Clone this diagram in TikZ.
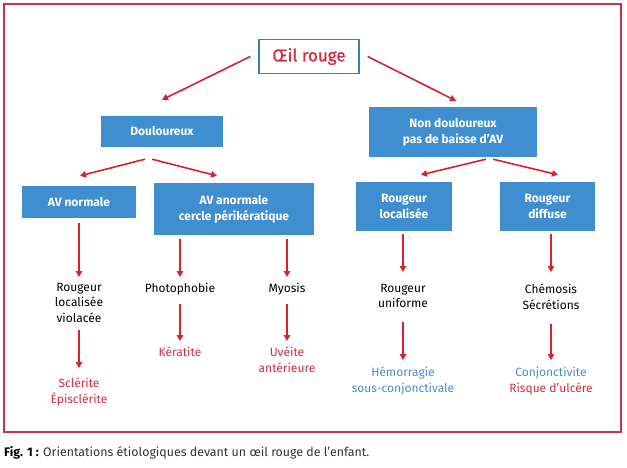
\documentclass[tikz,border=0pt]{standalone}
\usepackage{fontspec}
\setmainfont{Fira Sans}
\newfontfamily\medfont{Fira Sans}[FakeBold=1]
\usetikzlibrary{arrows.meta}
\definecolor{boxblue}{HTML}{3E8ED0}
\definecolor{topblue}{HTML}{3A7FB8}
\definecolor{arrowred}{HTML}{D7222F}
\definecolor{textred}{HTML}{CF2E3E}
\definecolor{textblue}{HTML}{4A8DC4}
\definecolor{framered}{HTML}{C2364A}
\definecolor{captiongray}{HTML}{333333}

\begin{document}
\begin{tikzpicture}[x=1pt, y=1pt,
 box/.style={fill=boxblue, text=white, font=\bfseries\fontsize{12}{16}\selectfont, align=center, inner sep=0},
 txt/.style={font=\fontsize{12}{15.5}\selectfont, align=center, inner sep=0, anchor=north},
 arr/.style={draw=arrowred, line width=1.6pt, -{Triangle[length=6pt,width=6.5pt]}}]
\useasboundingbox (0,0) rectangle (627,-468);
\draw[framered, line width=1.4pt] (4,-4) rectangle (621,-432);
\node[draw=topblue, line width=1.4pt, fill=white, text=textred, font=\medfont\fontsize{17}{20}\selectfont, minimum width=100, minimum height=34, inner sep=0] (oeil) at (309,-56.5) {Œil rouge};
\node[box, minimum width=122, minimum height=31] (doul) at (162,-131.5) {Douloureux};
\node[box, minimum width=168, minimum height=50] (ndoul) at (453,-132) {Non douloureux\\pas de baisse d’AV};
\node[box, minimum width=114, minimum height=32] (avn) at (79,-202) {AV normale};
\node[box, minimum width=160, minimum height=52] (ava) at (234,-209) {AV anormale\\cercle périkératique};
\node[box, minimum width=96, minimum height=49] (rloc) at (404,-206.5) {Rougeur\\localisée};
\node[box, minimum width=95, minimum height=49] (rdif) at (547.5,-206.5) {Rougeur\\diffuse};
\node[txt] (rviol) at (79,-283) {Rougeur\\localisée\\violacée};
\node[txt] (photo) at (180,-283) {Photophobie};
\node[txt] (myo) at (287,-283) {Myosis};
\node[txt] (runi) at (403,-284) {Rougeur\\uniforme};
\node[txt] (chem) at (551,-284) {Chémosis\\Sécrétions};
\node[txt, text=textred] (scl) at (79,-378) {Sclérite\\Épisclérite};
\node[txt, text=textred] (kera) at (180,-347) {Kératite};
\node[txt, text=textred] (uve) at (287,-347) {Uvéite\\antérieure};
\node[txt, text=textblue] (hemo) at (403,-367) {Hémorragie\\sous-conjonctivale};
\node[txt] (conj) at (551,-367) {\textcolor{textblue}{Conjonctivite}\\\textcolor{textred}{Risque d’ulcère}};
\node[anchor=west, inner sep=0, font=\fontsize{12.4}{14}\selectfont, text=captiongray] (cap) at (4,-453) {\textcolor{black}{\textbf{Fig. 1 :}} Orientations étiologiques devant un œil rouge de l’enfant.};
\draw[arr] ([xshift=-8]oeil.west) -- ([yshift=16]doul.north);
\draw[arr] ([xshift=8]oeil.east) -- ([xshift=3,yshift=6]ndoul.north);
\draw[arr] ([xshift=-17,yshift=-12]doul.south) -- ([xshift=1,yshift=10]avn.north);
\draw[arr] ([xshift=-10,yshift=-12]doul.south) -- ([xshift=-17,yshift=7]ava.north);
\draw[arr] ([xshift=33,yshift=-2]ndoul.south) -- ([xshift=17,yshift=7]rloc.north);
\draw[arr] ([xshift=40,yshift=-2]ndoul.south) -- ([xshift=10.5,yshift=7]rdif.north);
\draw[arr] ([yshift=-5]avn.south) -- ([yshift=6]rviol.north);
\draw[arr] ([yshift=-7]rviol.south) -- ([yshift=10]scl.north);
\draw[arr] ([xshift=-54,yshift=-4]ava.south) -- ([yshift=6]photo.north);
\draw[arr] ([xshift=53,yshift=-4]ava.south) -- ([yshift=6]myo.north);
\draw[arr] ([yshift=-8.5]photo.south) -- ([yshift=6]kera.north);
\draw[arr] ([yshift=-8.5]myo.south) -- ([yshift=6]uve.north);
\draw[arr] ([xshift=-1,yshift=-3]rloc.south) -- ([yshift=12]runi.north);
\draw[arr] ([xshift=3.5,yshift=-3]rdif.south) -- ([yshift=12]chem.north);
\draw[arr] ([yshift=-14]runi.south) -- ([yshift=7]hemo.north);
\draw[arr] ([yshift=-14]chem.south) -- ([yshift=7]conj.north);
\end{tikzpicture}
\end{document}
